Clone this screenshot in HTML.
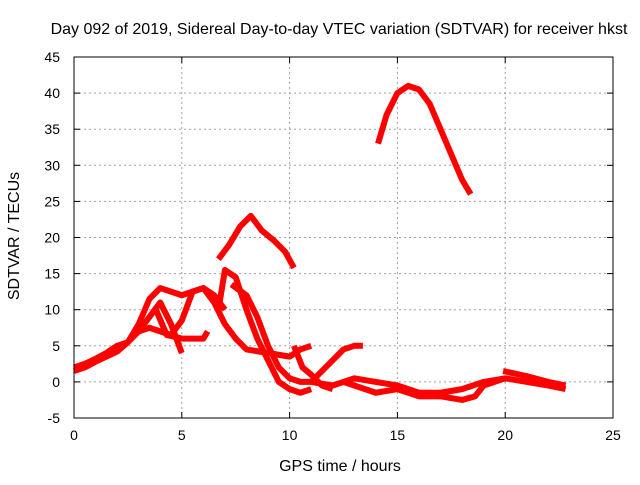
<!DOCTYPE html>
<html><head><meta charset="utf-8"><style>
body{margin:0;background:#fff;font-family:"Liberation Sans",sans-serif;}
svg text{font-family:"Liberation Sans",sans-serif;font-size:14px;fill:#000;}
svg text.big{font-size:16px;}
</style></head><body>
<svg id="chart" width="640" height="480">
<text class="big" x="339" y="34" text-anchor="middle">Day 092 of 2019, Sidereal Day-to-day VTEC variation (SDTVAR) for receiver hkst</text>
<g id="grid"></g><g id="series"></g><g id="axes"></g>
<text class="big" x="340" y="471" text-anchor="middle">GPS time / hours</text>
<text class="big" transform="translate(19,236) rotate(-90)" text-anchor="middle">SDTVAR / TECUs</text>
</svg>
<script>
const xTicks=[0,5,10,15,20,25];
const yTicks=[-5,0,5,10,15,20,25,30,35,40,45];
const seriesArc=[[14.1,33],[14.5,37],[15,40],[15.5,41],[16,40.5],[16.5,38.5],[17,35],[17.5,31.5],[18,28],[18.4,26]];
const seriesHump=[[6.7,17],[7.2,19],[7.7,21.5],[8.2,23],[8.7,21],[9.3,19.5],[9.8,18],[10.2,15.8]];
const seriesRampA=[[0,2],[0.5,2.5],[1,3.2],[1.5,4],[2,5],[2.5,5.5],[3,8],[3.5,11.5],[4,13],[4.5,12.5],[5,12],[5.5,12.5],[6,13],[6.5,11],[7,8],[7.5,6],[8,4.5],[9,4],[10,3.5],[10.5,4.5],[11,5]];
const seriesRampB=[[0,1.5],[0.5,2],[1,2.8],[1.5,3.5],[2,4.2],[2.5,5.5],[3,7],[3.5,9],[4,11],[4.5,8],[5,4]];
const seriesRampC=[[3,7],[3.5,7.5],[4,7],[4.5,6.5],[5,8.5],[5.5,12.5],[6,13],[6.5,12],[7,10]];
const seriesDip=[[3.8,10],[4.3,6.5],[5,6],[5.5,6],[6,6],[6.2,7]];
const seriesPeakA=[[6.7,10],[7,15.5],[7.5,14.5],[8,10],[8.5,6],[9,3],[9.5,0],[10,-1],[10.5,-1.5],[11,-1]];
const seriesPeakB=[[7.3,13.5],[8,12],[8.5,9],[9,5],[9.5,2],[10,0.5],[10.5,0],[11,0],[11.5,1.5],[12,3],[12.5,4.5],[13,5],[13.4,5]];
const seriesMidA=[[10.2,5],[10.6,2],[11,1],[11.5,-0.5],[12,-1]];
const seriesLateA=[[11,0],[12,-0.5],[13,0.5],[14,0],[15,-0.5],[16,-1.5],[17,-1.5],[18,-1],[19,0],[20,0.5],[21,0],[22,-0.5],[22.8,-1]];
const seriesLateB=[[12.5,0],[13,-0.5],[14,-1.5],[15,-1],[16,-2],[17,-2],[18,-2.5],[18.6,-2],[19,-0.5],[20,0.5]];
const seriesLateC=[[19.9,1.5],[21,0.8],[22,0],[22.8,-0.5]];
const allSeries=[seriesArc,seriesHump,seriesRampA,seriesRampB,seriesRampC,seriesDip,seriesPeakA,seriesPeakB,seriesMidA,seriesLateA,seriesLateB,seriesLateC];
const X0=74,X1=613,Y0=418,Y1=57;
const xs=h=>X0+(h-0)/25*(X1-X0);
const ys=v=>Y0-(v+5)/50*(Y0-Y1);
const NS="http://www.w3.org/2000/svg";
function mk(t,a,p){const e=document.createElementNS(NS,t);for(const k in a)e.setAttribute(k,a[k]);p.appendChild(e);return e;}
const grid=document.getElementById('grid'),axes=document.getElementById('axes'),ser=document.getElementById('series');
xTicks.forEach(t=>{const x=xs(t);
 if(t>0&&t<25){const l=mk('line',{x1:x,x2:x,y1:Y1,y2:Y0,stroke:'#a0a0a0','stroke-dasharray':'2,3'},grid);
 
 }
 mk('line',{x1:x,x2:x,y1:Y0,y2:Y0-6,stroke:'#000'},axes);mk('line',{x1:x,x2:x,y1:Y1,y2:Y1+6,stroke:'#000'},axes);
 const tx=mk('text',{x:x,y:Y0+22,'text-anchor':'middle'},axes);tx.textContent=t;
 
 });
yTicks.forEach(t=>{const y=ys(t);
 if(t>-5&&t<45){const l=mk('line',{x1:X0,x2:X1,y1:y,y2:y,stroke:'#a0a0a0','stroke-dasharray':'2,3'},grid);
 
 }
 mk('line',{x1:X0,x2:X0+6,y1:y,y2:y,stroke:'#000'},axes);mk('line',{x1:X1,x2:X1-6,y1:y,y2:y,stroke:'#000'},axes);
 const tx=mk('text',{x:X0-14,y:y+5,'text-anchor':'end'},axes);tx.textContent=t;
 
 });
const fr=mk('rect',{x:X0,y:Y1,width:X1-X0,height:Y0-Y1,fill:'none',stroke:'#000'},axes);


allSeries.forEach(s=>{const p=mk('polyline',{points:s.map(d=>xs(d[0])+','+ys(d[1])).join(' '),fill:'none',stroke:'#ff0000','stroke-width':6,'stroke-linejoin':'round'},ser);
 
 });
</script>
</body></html>
